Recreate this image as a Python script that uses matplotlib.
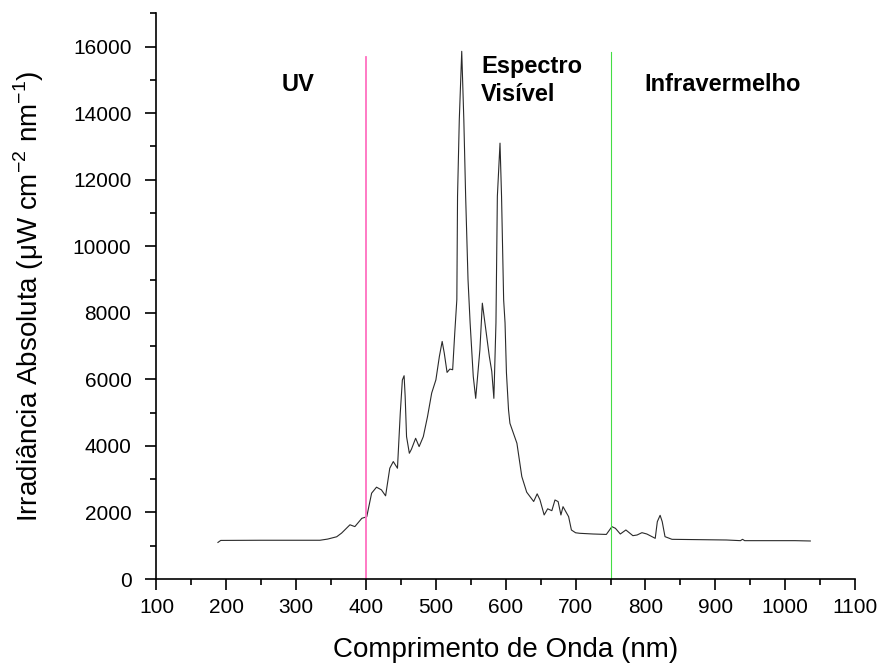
import matplotlib
matplotlib.use("Agg")
import matplotlib.pyplot as plt
from matplotlib.ticker import MultipleLocator

plt.rcParams['font.family'] = ['Liberation Sans', 'DejaVu Sans']
plt.rcParams['mathtext.fontset'] = 'custom'
plt.rcParams['mathtext.rm'] = 'Liberation Sans'
plt.rcParams['axes.unicode_minus'] = False

# lamp spectrum read point by point
wavelength = [188, 192, 250, 334, 345, 358, 365, 377, 384, 394, 401, 408, 415,
              422, 428, 434, 439, 445, 449, 452, 454.5, 456, 458, 462, 465, 471,
              476, 482, 488, 494, 500, 505, 509, 512, 516, 520, 524, 527, 530,
              531, 533.5, 537, 540, 542.6, 546, 549, 553.5, 557, 563, 566.5,
              571.5, 576.5, 580, 583, 586, 588, 591.8, 594, 597, 599, 601, 604,
              606, 616, 623, 630, 640, 645, 649, 655, 660, 666, 670.5, 675, 679,
              682, 690, 694, 700, 706, 725, 744, 752, 757, 764, 772, 782, 788,
              795, 802, 814, 817, 821, 824, 828, 838, 916, 936, 939, 942, 1014,
              1036]
irradiance = [1100, 1160, 1165, 1165, 1200, 1270, 1380, 1630, 1575, 1825, 1870,
              2580, 2760, 2680, 2500, 3330, 3530, 3330, 4980, 5980, 6110, 5500,
              4280, 3780, 3900, 4230, 3980, 4280, 4880, 5590, 5985, 6690, 7140,
              6790, 6210, 6310, 6290, 7390, 8400, 11500, 13800, 15860, 13800,
              11500, 9000, 7700, 6090, 5430, 6890, 8290, 7490, 6690, 6240, 5430,
              7700, 11500, 13100, 11500, 8390, 7700, 6200, 5080, 4680, 4080,
              3080, 2610, 2330, 2560, 2380, 1925, 2110, 2054, 2376, 2326, 1925,
              2175, 1874, 1474, 1390, 1374, 1353, 1340, 1574, 1524, 1353, 1474,
              1303, 1323, 1393, 1353, 1223, 1724, 1915, 1724, 1273, 1193, 1173,
              1153, 1193, 1153, 1153, 1143]

# region boundaries (nm) and how far up each line is drawn
uv_edge, uv_top = 400, 15700
ir_edge, ir_top = 750, 15830

fig = plt.figure(figsize=(8.82, 6.69), dpi=100)
ax = fig.add_axes([0.1774, 0.1345, 0.792, 0.8455])

ax.plot(wavelength, irradiance, color='#2a2a2a', lw=0.8)
ax.plot([uv_edge, uv_edge], [0, uv_top], color='#ff70c0', lw=1.3)
ax.plot([ir_edge, ir_edge], [0, ir_top], color='#44dd44', lw=0.8)

ax.text(303, 14870, 'UV', fontsize=17, fontweight='bold', ha='center', va='center')
ax.text(565, 15400, 'Espectro', fontsize=17, fontweight='bold', ha='left', va='center')
ax.text(565, 14560, 'Visível', fontsize=17, fontweight='bold', ha='left', va='center')
ax.text(798, 14860, 'Infravermelho', fontsize=17, fontweight='bold', ha='left', va='center')

ax.set_xlim(100, 1100)
ax.set_ylim(0, 17000)
ax.xaxis.set_major_locator(MultipleLocator(100))
ax.xaxis.set_minor_locator(MultipleLocator(50))
ax.yaxis.set_major_locator(MultipleLocator(2000))
ax.yaxis.set_minor_locator(MultipleLocator(1000))

for side in ['top', 'right']:
  ax.spines[side].set_visible(False)
for side in ['left', 'bottom']:
  ax.spines[side].set_linewidth(1.2)

ax.tick_params(which='major', direction='out', length=8, width=1.2, labelsize=15)
ax.tick_params(axis='x', which='major', pad=6)
ax.tick_params(axis='y', which='major', pad=10)
ax.tick_params(which='minor', direction='out', length=4, width=1.2)

ax.set_xlabel('Comprimento de Onda (nm)', fontsize=20, labelpad=14)
ax.set_ylabel('Irradiância Absoluta (μW cm$^{-2}$ nm$^{-1}$)', fontsize=20, labelpad=19)

fig.savefig('out.png', dpi=100)
